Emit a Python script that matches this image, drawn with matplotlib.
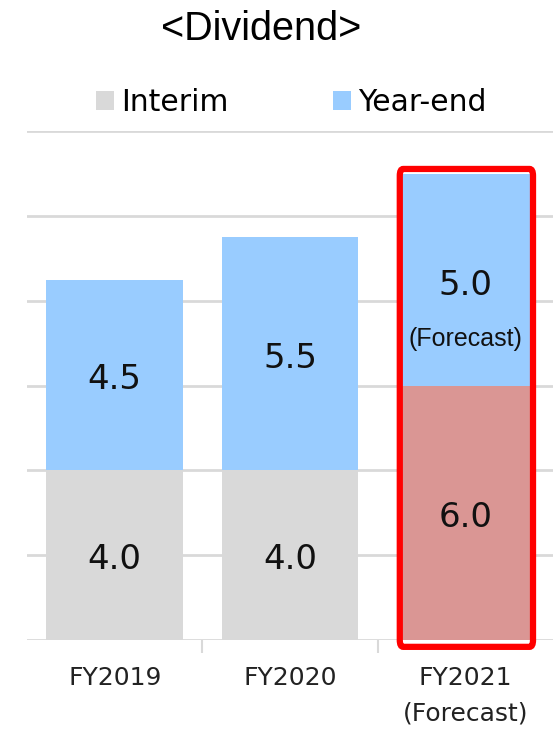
import matplotlib.pyplot as plt
from matplotlib.patches import FancyBboxPatch, Patch

# Dividend per share (yen)
years = ["FY2019", "FY2020", "FY2021\n(Forecast)"]
interim = [4.0, 4.0, 6.0]
year_end = [4.5, 5.5, 5.0]

gray = "#D9D9D9"
blue = "#99CCFF"
rose = "#DA9694"

fig = plt.figure(figsize=(5.53, 7.29), dpi=100)
ax = fig.add_axes([0.049, 0.122, 0.951, 0.698])

x = list(range(len(years)))
width = 0.78
interim_colors = [gray, gray, rose]
ax.bar(x, interim, width, color=interim_colors, zorder=2)
ax.bar(x, year_end, width, bottom=interim, color=blue, zorder=2)

# segment labels (nudged down a little so the digits sit optically centred)
nudge = 0.11
for i in x:
    ax.text(i, interim[i] / 2 - nudge, f"{interim[i]:.1f}", ha="center", va="center",
            fontsize=24.5, family="DejaVu Sans", color="#111111", zorder=3)
    top_mid = interim[i] + year_end[i] / 2
    if i == 2:
        ax.text(i, top_mid - 0.15, f"{year_end[i]:.1f}", ha="center", va="center",
                fontsize=24.5, family="DejaVu Sans", color="#111111", zorder=3)
        ax.text(i, top_mid - 1.4, "(Forecast)", ha="center", va="center",
                fontsize=18, family="Liberation Sans", color="#111111", zorder=3)
    else:
        ax.text(i, top_mid - nudge, f"{year_end[i]:.1f}", ha="center", va="center",
                fontsize=24.5, family="DejaVu Sans", color="#111111", zorder=3)

# red frame around the forecast bar
total = interim[2] + year_end[2]
frame = FancyBboxPatch((2 - 0.374, -0.16), 0.76, total + 0.27,
                       boxstyle="round,pad=0,rounding_size=0.02",
                       fill=False, edgecolor="#FF0000", linewidth=4.5,
                       zorder=4, clip_on=False, mutation_aspect=8)
ax.add_patch(frame)

ax.set_xlim(-0.5, 2.5)
ax.set_ylim(0, 12)
ax.set_yticks(range(0, 13, 2))
ax.yaxis.grid(True, color="#D9D9D9", linewidth=2)
ax.set_axisbelow(True)
ax.tick_params(axis="y", left=False, labelleft=False)
for s in ["top", "right", "left", "bottom"]:
    ax.spines[s].set_visible(False)

ax.set_xticks(x)
ax.set_xticklabels(years, fontsize=18, family="DejaVu Sans", color="#222222",
                   linespacing=1.6, va="top")
ax.tick_params(axis="x", which="major", length=0, pad=19)
ax.set_xticks([0.5, 1.5], minor=True)
ax.tick_params(axis="x", which="minor", length=9, width=1.5, color="#D9D9D9")

fig.text(0.473, 0.96, "<Dividend>", ha="center", va="center",
         fontsize=28.5, family="Liberation Sans")

handles = [Patch(facecolor=gray, edgecolor="none"), Patch(facecolor=blue, edgecolor="none")]
fig.legend(handles, ["Interim", "Year-end"], loc="center", bbox_to_anchor=(0.527, 0.86),
           ncol=2, frameon=False, handlelength=0.6, handleheight=0.6,
           handletextpad=0.25, columnspacing=3.5,
           prop={"family": "DejaVu Sans", "size": 21.5})

fig.savefig("out.png", dpi=100)
